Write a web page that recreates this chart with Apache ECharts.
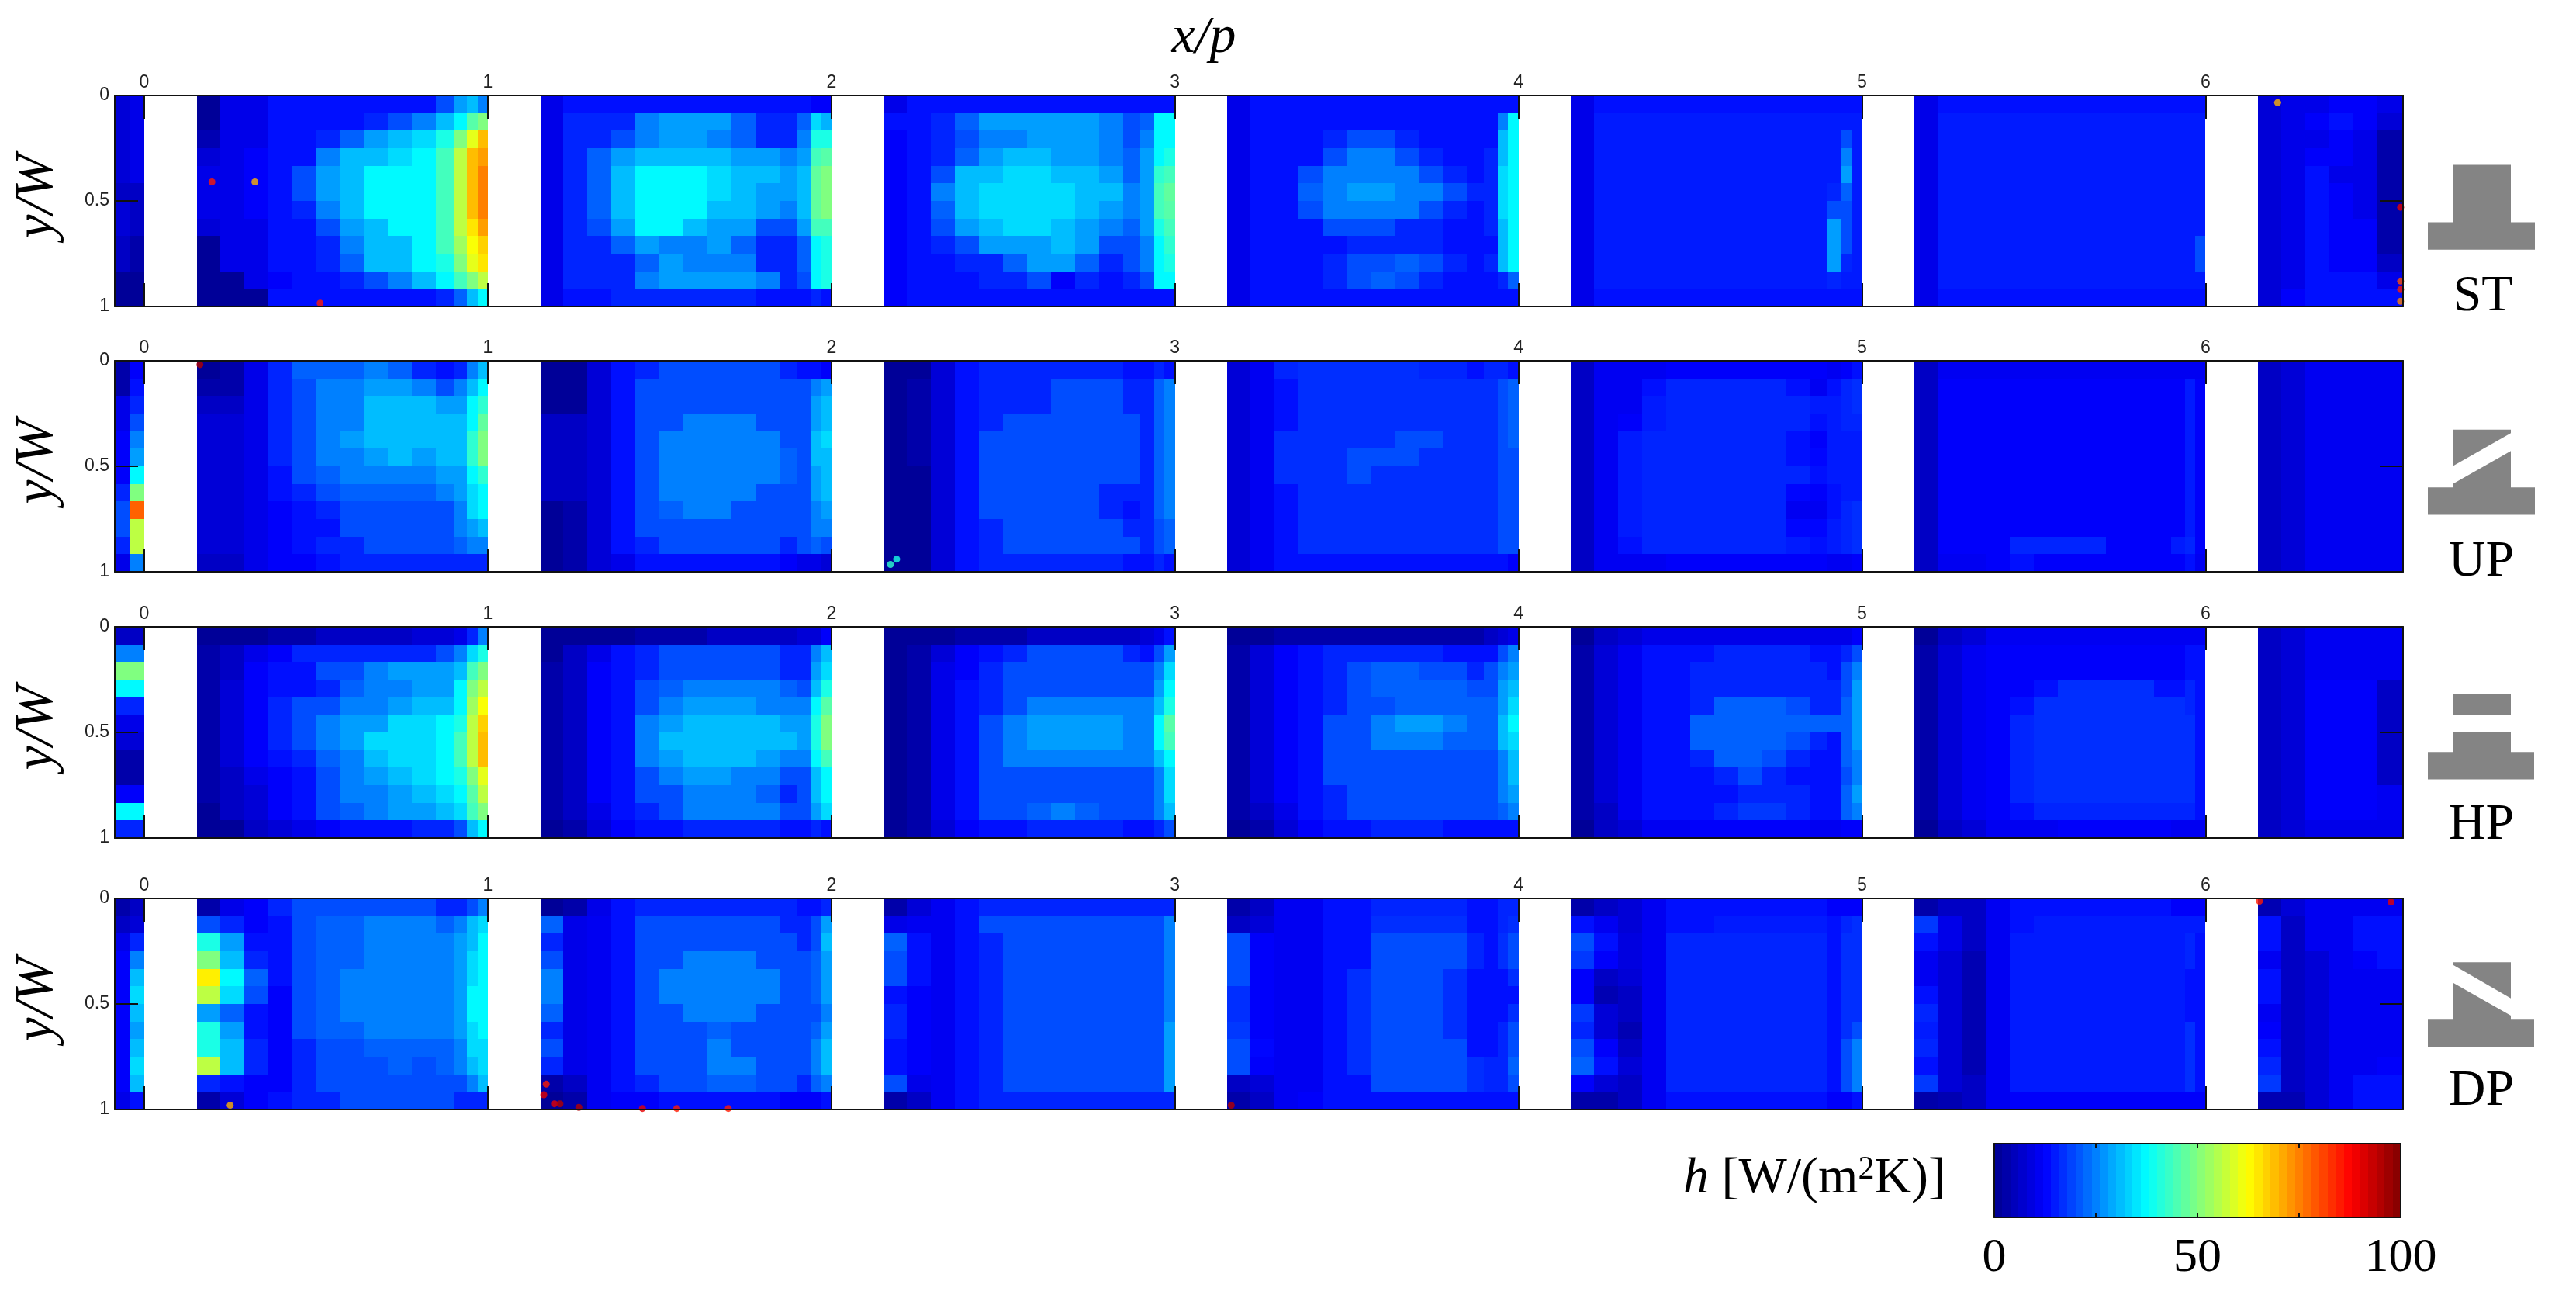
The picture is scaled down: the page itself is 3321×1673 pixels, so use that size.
<!DOCTYPE html>
<html>
<head>
<meta charset="utf-8">
<title>h map</title>
<script src="https://cdn.jsdelivr.net/npm/echarts@6/dist/echarts.min.js"></script>
<style>
  html, body { margin: 0; padding: 0; background: #fff; }
  #chart { width: 3321px; height: 1673px; }
</style>
</head>
<body>
<div id="chart"></div>
<script>
// column edges, in x/p, measured from the start of each pitch
const pitchEdges = [0.153, 0.22, 0.29, 0.36, 0.43, 0.5, 0.57, 0.64, 0.71, 0.78, 0.85, 0.9, 0.94, 0.97, 1]
const leadEdges = [-0.0858, -0.04, 0]
const tailEdges = [6.153, 6.22, 6.29, 6.36, 6.43, 6.5, 6.575]
const rowCount = 12
const xTicks = [0, 1, 2, 3, 4, 5, 6]
const colorbarLabels = [0, 50, 100]
const colorbarTicks = [25, 50, 75]
const colorbarLevels = [1, 3, 5, 7, 9, 11, 13, 15, 17, 19, 21, 23, 25, 27, 29, 31, 33, 35, 37, 39, 41, 43, 45, 47, 49, 51, 53, 55, 57, 59, 61, 63, 65, 67, 69, 71, 73, 75, 77, 79, 81, 83, 85, 87, 89, 91, 93, 95, 97, 99]
const jet = ['#00008f', '#0000ff', '#0080ff', '#00ffff', '#80ff80', '#ffff00', '#ff8000', '#ff0000', '#800000']

// ST
const stLead = [[8,10],[8,10],[8,10],[8,10],[8,10],[6,6],[8,6],[8,6],[6,3],[6,3],[1,1],[1,1]]
const stP0 = [
  [1,10,10,14,14,14,14,14,14,14,20,28,31,25],
  [1,10,10,14,14,14,14,16,20,25,31,37,46,50],
  [4,10,10,14,14,16,22,28,31,34,40,50,60,69],
  [8,10,12,14,14,25,31,31,34,37,44,56,69,72],
  [10,10,12,14,20,28,31,37,37,37,44,56,69,75],
  [10,10,12,14,20,28,31,37,37,37,44,56,69,75],
  [10,10,12,14,16,25,31,37,37,37,44,56,69,75],
  [8,10,10,14,14,20,28,31,37,37,44,56,65,72],
  [1,10,10,14,14,16,25,31,31,37,44,53,62,67],
  [1,10,10,14,14,16,22,31,31,37,40,50,60,65],
  [1,1,10,12,14,14,16,20,25,31,37,44,50,56],
  [1,1,1,14,14,14,14,14,14,14,16,22,31,37]]
const stP1 = [
  [10,14,14,14,14,14,14,14,14,14,14,14,12,12],
  [10,16,16,16,25,28,28,28,22,16,16,22,34,30],
  [10,16,16,20,25,28,28,25,22,16,16,25,40,40],
  [10,16,22,28,31,31,31,31,28,28,25,28,44,46],
  [10,16,22,31,37,37,37,34,31,31,28,31,47,50],
  [10,16,22,31,37,37,37,34,31,28,28,31,47,50],
  [10,16,22,31,37,37,37,31,31,28,25,31,47,50],
  [10,16,20,28,37,37,31,28,28,20,20,28,44,44],
  [10,16,16,22,28,25,25,28,22,16,16,22,37,40],
  [10,16,16,16,22,28,25,25,25,16,16,22,37,40],
  [10,16,16,16,25,28,28,28,28,25,16,20,37,40],
  [10,14,14,16,16,16,16,16,16,14,14,14,16,14]]
const stP2 = [
  [10,14,14,14,14,14,14,14,14,14,14,14,14,14],
  [14,14,16,22,28,28,28,28,28,25,20,22,37,37],
  [12,14,16,20,25,25,28,28,28,25,20,25,37,37],
  [12,14,16,22,28,31,31,28,28,25,22,28,37,40],
  [12,14,20,31,31,34,34,31,31,28,22,28,42,44],
  [12,14,25,31,34,34,34,34,31,31,25,28,44,47],
  [12,14,22,31,34,34,34,34,31,28,25,28,44,46],
  [12,14,20,28,31,34,34,31,28,25,22,28,40,44],
  [12,14,16,20,28,28,28,31,28,20,20,25,37,42],
  [12,14,14,16,16,22,28,28,22,16,20,25,37,40],
  [12,14,14,14,16,16,20,12,16,14,16,20,37,37],
  [12,14,14,14,14,14,14,14,14,14,14,14,14,14]]
const stP3 = [
  [10,14,14,14,14,14,14,14,14,14,14,14,14,14],
  [10,14,14,14,14,14,14,14,14,14,14,14,25,37],
  [10,14,14,14,16,20,20,16,14,14,14,14,31,37],
  [10,14,14,14,20,25,25,20,16,14,14,16,31,37],
  [10,14,14,20,25,25,25,25,20,16,14,16,34,37],
  [10,14,14,22,25,28,28,25,25,20,16,16,34,37],
  [10,14,14,20,25,25,25,25,20,16,14,16,34,37],
  [10,14,14,14,20,20,20,16,16,14,14,16,31,37],
  [10,14,14,14,14,16,16,16,16,14,14,14,31,37],
  [10,14,14,14,16,20,20,22,20,16,14,16,31,37],
  [10,14,14,14,16,20,22,20,16,14,14,14,16,22],
  [10,14,14,14,14,14,14,14,14,14,14,14,14,14]]
const stP4 = [
  [10,14,14,14,14,14,14,14,14,14,14,14,14,14],
  [10,15,15,15,15,15,15,15,15,15,15,15,15,15],
  [10,15,15,15,15,15,15,15,15,15,15,15,20,15],
  [10,15,15,15,15,15,15,15,15,15,15,15,25,15],
  [10,15,15,15,15,15,15,15,15,15,15,15,28,15],
  [10,15,15,15,15,15,15,15,15,15,15,16,22,15],
  [10,15,15,15,15,15,15,15,15,15,15,20,20,15],
  [10,15,15,15,15,15,15,15,15,15,15,28,20,15],
  [10,15,15,15,15,15,15,15,15,15,15,28,20,15],
  [10,15,15,15,15,15,15,15,15,15,15,28,16,15],
  [10,15,15,15,15,15,15,15,15,15,15,16,15,15],
  [10,14,14,14,14,14,14,14,14,14,14,14,14,14]]
const stP5 = [
  [10,14,14,14,14,14,14,14,14,14,14,14,14,14],
  [10,15,15,15,15,15,15,15,15,15,15,15,15,15],
  [10,15,15,15,15,15,15,15,15,15,15,15,15,15],
  [10,15,15,15,15,15,15,15,15,15,15,15,15,15],
  [10,15,15,15,15,15,15,15,15,15,15,15,15,15],
  [10,15,15,15,15,15,15,15,15,15,15,15,15,15],
  [10,15,15,15,15,15,15,15,15,15,15,15,15,15],
  [10,15,15,15,15,15,15,15,15,15,15,15,15,15],
  [10,15,15,15,15,15,15,15,15,15,15,15,15,20],
  [10,15,15,15,15,15,15,15,15,15,15,15,15,20],
  [10,15,15,15,15,15,15,15,15,15,15,15,15,15],
  [10,14,14,14,14,14,14,14,14,14,14,14,14,14]]
const stTail = [[8,10,10,12,12,10],[8,10,12,14,12,8],[8,10,10,12,10,3],[8,10,12,12,10,3],[8,10,14,10,10,3],[8,10,14,12,10,3],[8,10,14,12,10,3],[8,10,14,12,12,3],[8,10,14,12,12,3],[8,10,14,12,12,6],[8,10,14,14,14,10],[8,12,14,14,14,14]]
const stHot = [[0.197,0.41,85],[0.322,0.41,70],[0.512,0.984,85],[6.21,0.034,70],[6.568,0.53,90],[6.568,0.88,80],[6.568,0.92,85],[6.568,0.975,75]]

// UP
const upLead = [[3,12],[3,14],[10,16],[10,20],[12,25],[12,28],[12,37],[16,50],[20,78],[20,56],[16,56],[10,25]]
const upP0 = [
  [1,3,10,16,22,22,22,25,22,16,14,16,25,31],
  [3,3,10,16,20,25,25,28,28,25,20,25,31,37],
  [6,6,10,16,20,25,25,31,31,31,28,28,37,42],
  [8,8,10,16,20,25,25,31,31,31,31,31,37,47],
  [8,8,10,16,20,25,28,31,31,31,31,31,42,50],
  [8,8,10,16,20,25,25,28,31,28,31,31,42,50],
  [8,8,10,14,20,22,25,25,25,25,28,28,37,42],
  [8,8,10,14,16,20,22,22,22,22,25,28,34,37],
  [8,8,10,12,14,16,20,20,20,20,20,25,34,37],
  [8,8,10,12,14,14,20,20,20,20,20,25,28,31],
  [8,8,10,12,14,16,16,20,20,20,20,22,25,25],
  [6,6,10,12,12,14,16,16,16,16,16,16,16,16]]
const upP1 = [
  [1,1,8,14,16,20,20,20,20,20,16,14,14,12],
  [1,1,8,14,20,20,20,20,20,20,20,20,25,28],
  [1,1,8,14,20,20,20,20,20,20,20,20,28,31],
  [6,6,8,14,20,20,25,25,25,20,20,20,28,31],
  [6,6,8,14,20,25,25,25,25,25,20,20,31,34],
  [6,6,8,14,20,25,25,25,25,25,22,20,31,31],
  [6,6,8,14,20,25,25,25,25,25,22,20,28,31],
  [6,6,8,14,20,25,25,25,25,20,20,20,28,31],
  [1,3,8,14,20,22,25,25,20,20,20,20,25,28],
  [1,3,8,14,20,20,20,20,20,20,20,20,25,25],
  [1,3,8,14,16,20,20,20,20,20,16,20,22,20],
  [1,3,8,10,14,14,14,14,14,14,12,10,10,8]]
const upP2 = [
  [1,1,8,14,16,16,16,16,16,16,14,14,16,14],
  [1,3,8,14,16,16,16,20,20,20,16,16,22,25],
  [1,3,8,14,16,16,16,20,20,20,16,16,22,25],
  [1,3,8,14,16,20,20,20,20,20,20,16,22,25],
  [1,3,8,14,20,20,20,20,20,20,20,16,22,25],
  [1,3,8,14,20,20,20,20,20,20,20,16,22,25],
  [1,1,8,14,20,20,20,20,20,20,20,16,22,25],
  [1,1,8,14,20,20,20,20,20,16,16,16,22,25],
  [1,1,8,14,20,20,20,20,20,16,14,16,22,25],
  [1,1,8,14,16,20,20,20,20,20,16,16,20,22],
  [1,1,8,14,16,20,20,20,20,20,20,16,20,22],
  [1,1,8,14,16,16,16,16,16,16,14,14,16,14]]
const upP3 = [
  [8,11,16,17,17,17,17,17,16,16,14,16,16,14],
  [8,11,14,17,17,17,17,17,17,17,17,17,20,22],
  [8,11,14,17,17,17,17,17,17,17,17,17,20,22],
  [8,11,14,17,17,17,17,17,17,17,17,17,20,22],
  [8,11,17,17,17,17,17,20,20,17,17,17,20,22],
  [8,11,17,17,17,20,20,20,17,17,17,17,20,20],
  [8,11,17,17,17,20,17,17,17,17,17,17,20,20],
  [8,11,14,17,17,17,17,17,17,17,17,17,20,20],
  [8,11,14,17,17,17,17,17,17,17,17,17,20,20],
  [8,11,14,17,17,17,17,17,17,17,17,17,20,20],
  [8,11,14,17,17,17,17,17,17,17,17,17,20,20],
  [8,11,14,14,14,14,14,14,14,14,14,14,14,12]]
const upP4 = [
  [6,11,11,11,12,12,12,12,12,12,12,11,12,14],
  [6,11,11,14,16,16,16,16,16,14,11,14,16,17],
  [6,11,11,15,16,16,16,16,16,16,15,15,16,17],
  [6,11,12,15,16,16,16,16,16,16,14,15,16,16],
  [6,11,15,16,16,16,16,16,16,14,12,15,15,15],
  [6,11,15,16,16,16,16,16,16,14,13,15,15,15],
  [6,11,15,16,16,16,16,16,16,16,14,15,15,15],
  [6,11,15,16,16,16,16,16,16,13,12,14,15,15],
  [6,11,15,16,16,16,16,16,16,11,11,14,16,17],
  [6,11,15,16,16,16,16,16,16,13,13,15,16,17],
  [6,11,14,16,16,16,16,16,16,15,14,15,16,17],
  [6,11,11,11,12,12,12,12,12,12,12,11,11,12]]
const upP5 = [
  [6,11,11,11,11,11,11,11,11,11,11,11,11,11],
  [6,12,12,12,12,12,12,12,12,12,12,12,15,12],
  [6,12,12,12,12,12,12,12,12,12,12,12,15,12],
  [6,12,12,12,12,12,12,12,12,12,12,12,15,12],
  [6,12,12,12,12,12,12,12,12,12,12,12,15,12],
  [6,12,12,12,12,12,12,12,12,12,12,12,15,12],
  [6,12,12,12,12,12,12,12,12,12,12,12,15,12],
  [6,12,12,12,12,12,12,12,12,12,12,12,15,12],
  [6,12,12,12,12,12,12,12,12,12,12,12,15,12],
  [6,12,12,12,12,12,12,12,12,12,12,12,15,12],
  [6,12,12,12,16,16,16,16,12,12,12,15,16,12],
  [6,11,11,12,14,12,12,12,12,12,12,12,14,11]]
const upTail = [[6,8,11,11,11,11],[6,8,11,11,11,11],[6,8,11,11,11,11],[6,8,11,11,11,11],[6,8,11,11,11,11],[6,8,11,11,11,11],[6,8,11,11,11,11],[6,8,11,11,11,11],[6,8,11,11,11,11],[6,8,11,11,11,11],[6,8,11,11,11,11],[6,8,11,11,11,11]]
const upHot = [[0.162,0.018,95],[2.172,0.965,42],[2.19,0.94,40]]

// HP
const hpLead = [[6,6],[25,25],[50,50],[37,37],[16,16],[10,10],[8,8],[3,3],[3,3],[12,12],[37,37],[16,16]]
const hpP0 = [
  [1,1,1,3,3,6,6,6,6,8,8,10,16,25],
  [3,6,10,12,16,16,16,16,16,16,20,25,34,40],
  [3,6,12,14,14,20,20,25,28,28,28,31,44,50],
  [3,8,12,14,14,16,22,25,25,28,28,37,50,56],
  [3,8,12,16,20,20,25,25,28,31,31,37,53,62],
  [3,8,12,16,20,25,28,28,34,34,37,40,56,67],
  [3,8,12,16,20,25,28,34,34,34,37,44,56,69],
  [3,8,12,14,16,22,25,31,34,34,37,44,56,69],
  [3,6,10,12,14,20,25,28,31,34,37,40,50,60],
  [3,6,8,12,14,20,25,25,28,31,34,37,46,56],
  [1,6,8,12,14,20,22,25,28,28,31,34,44,50],
  [1,1,6,8,10,12,14,14,14,16,16,20,31,37]]
const hpP1 = [
  [1,1,1,1,3,3,3,6,6,6,6,8,8,12],
  [1,6,10,14,16,20,20,20,20,20,16,16,25,31],
  [3,6,12,14,16,20,20,20,20,20,16,16,28,34],
  [3,6,12,14,20,22,25,25,25,25,22,20,31,40],
  [3,6,12,14,20,25,28,28,28,25,25,25,37,46],
  [3,6,12,14,25,28,31,31,31,31,28,28,40,50],
  [3,6,12,14,25,31,31,31,31,31,31,28,40,50],
  [3,6,12,14,25,28,31,31,31,28,25,25,37,44],
  [3,6,12,14,20,25,28,28,25,25,20,20,31,37],
  [3,6,12,14,20,20,25,25,25,22,16,20,31,37],
  [3,6,10,14,16,20,25,25,25,25,20,20,28,34],
  [1,3,8,12,14,14,16,16,16,16,14,14,16,14]]
const hpP2 = [
  [1,1,1,3,3,3,6,6,6,6,6,8,10,14],
  [1,3,8,12,14,16,20,20,20,20,16,14,20,28],
  [1,3,10,12,16,20,20,20,20,20,20,20,25,34],
  [1,3,10,14,16,20,20,20,20,20,20,20,28,37],
  [1,3,10,14,16,20,25,25,25,25,25,25,31,40],
  [1,3,10,14,20,25,28,28,28,28,25,25,37,46],
  [1,3,10,14,20,25,28,28,28,28,25,25,37,44],
  [1,3,10,14,20,25,25,25,25,25,25,25,31,37],
  [1,3,10,14,20,20,20,20,20,20,20,20,25,34],
  [1,3,10,14,20,20,20,20,20,20,20,20,25,34],
  [1,3,10,14,20,20,22,25,22,20,20,20,25,31],
  [1,3,8,12,14,14,16,16,16,16,14,14,16,20]]
const hpP3 = [
  [1,1,3,3,3,3,3,3,3,3,3,6,8,10],
  [3,8,12,14,16,16,16,16,16,14,14,14,20,25],
  [3,8,12,14,16,20,22,22,20,20,16,20,25,28],
  [3,8,12,14,16,20,22,22,22,22,20,20,28,31],
  [3,8,12,14,16,20,20,22,22,22,22,22,28,34],
  [3,8,12,14,20,20,25,28,28,25,22,22,31,37],
  [3,8,12,14,20,20,25,25,25,22,22,22,31,34],
  [3,8,12,14,20,20,20,20,20,20,20,20,25,31],
  [3,8,12,14,20,20,20,20,20,20,20,20,25,31],
  [3,8,12,14,16,20,20,20,20,20,20,20,25,28],
  [3,6,10,14,16,20,20,20,20,20,20,20,22,25],
  [1,3,8,12,14,14,16,16,16,14,14,14,14,14]]
const hpP4 = [
  [1,6,8,10,10,10,10,10,10,10,10,10,10,12],
  [3,8,11,14,14,14,16,16,16,16,14,14,16,20],
  [3,8,11,14,14,16,16,16,16,16,16,14,20,25],
  [3,8,11,14,14,16,16,16,16,16,16,16,20,28],
  [3,8,11,14,14,16,22,22,22,20,16,16,22,28],
  [3,8,11,14,14,22,22,22,22,22,22,22,22,28],
  [3,8,11,14,14,22,22,22,22,20,16,14,22,28],
  [3,8,11,14,14,16,22,22,20,16,14,14,22,25],
  [3,8,11,14,14,14,16,20,16,14,14,14,20,25],
  [3,8,11,14,14,14,14,16,16,16,14,14,22,28],
  [3,6,11,14,14,14,16,18,18,16,14,14,22,25],
  [1,6,8,11,11,12,12,12,12,12,11,11,12,12]]
const hpP5 = [
  [1,6,8,11,11,11,11,11,11,11,11,11,11,11],
  [3,8,11,12,12,12,12,12,12,12,12,12,14,14],
  [3,8,11,12,12,12,12,12,12,12,12,12,14,14],
  [3,8,11,12,12,14,17,17,17,17,14,14,16,14],
  [3,8,11,12,14,17,17,17,17,17,17,17,16,14],
  [3,8,11,12,16,17,17,17,17,17,17,17,17,14],
  [3,8,11,12,16,17,17,17,17,17,17,17,17,14],
  [3,8,11,12,16,17,17,17,17,17,17,17,17,14],
  [3,8,11,12,16,17,17,17,17,17,17,17,17,14],
  [3,8,11,12,16,17,17,17,17,17,17,17,17,14],
  [3,8,11,12,14,16,16,16,16,16,16,16,16,14],
  [1,6,8,11,11,11,12,12,12,12,12,11,11,11]]
const hpTail = [[6,8,11,11,11,11],[6,8,11,11,11,11],[6,8,11,11,11,11],[6,8,12,12,12,6],[6,8,12,12,12,6],[6,8,12,12,12,6],[6,8,12,12,12,6],[6,8,12,12,12,6],[6,8,12,12,12,6],[6,8,12,12,12,11],[6,8,12,12,12,11],[6,8,10,10,10,10]]
const hpHot = []

// DP
const dpLead = [[3,6],[6,8],[10,16],[12,25],[12,31],[12,34],[12,31],[12,28],[12,31],[12,34],[12,31],[10,14]]
const dpP0 = [
  [3,10,12,16,20,20,20,20,20,20,16,16,20,25],
  [20,16,12,14,20,22,22,25,25,25,22,25,31,34],
  [40,28,14,14,20,22,22,25,25,25,25,28,31,37],
  [50,31,16,14,20,22,22,25,25,25,25,28,34,37],
  [64,37,22,14,20,22,25,25,25,25,25,28,34,37],
  [56,34,20,12,20,22,25,25,25,25,25,28,37,37],
  [28,22,14,12,20,22,25,25,25,25,25,28,37,37],
  [40,28,14,12,20,22,22,25,25,25,25,28,34,37],
  [40,31,16,12,16,20,20,22,22,22,22,25,34,34],
  [56,31,16,12,16,20,20,20,22,20,22,25,31,34],
  [16,14,12,12,16,20,20,20,20,20,20,20,25,31],
  [3,8,12,14,16,16,20,20,20,20,20,16,16,16]]
const dpP1 = [
  [1,3,10,14,16,16,16,16,16,16,16,14,14,16],
  [22,10,11,14,20,20,20,20,20,20,16,16,20,28],
  [16,10,11,14,20,20,20,20,20,20,20,16,20,31],
  [20,10,11,14,20,20,25,25,25,20,20,20,22,28],
  [25,10,11,14,20,25,25,25,25,25,20,20,22,28],
  [25,10,11,14,20,25,25,25,25,25,20,20,22,28],
  [22,10,11,14,20,20,25,25,25,20,20,20,20,25],
  [16,10,11,14,20,20,20,22,20,20,20,20,22,28],
  [20,10,11,14,20,20,20,25,20,20,20,20,25,31],
  [16,10,11,14,20,20,20,25,25,20,20,20,25,31],
  [3,6,11,14,16,20,20,22,22,20,20,16,22,25],
  [1,3,11,12,12,14,14,14,14,14,12,12,12,14]]
const dpP2 = [
  [3,8,11,14,16,16,16,16,16,16,16,16,16,16],
  [10,11,11,14,20,20,20,20,20,20,20,20,20,25],
  [22,14,11,14,16,20,20,20,20,20,20,20,20,25],
  [20,14,11,14,16,20,20,20,20,20,20,20,20,25],
  [20,14,11,14,16,20,20,20,20,20,20,20,20,25],
  [14,12,11,14,16,20,20,20,20,20,20,20,20,25],
  [16,12,11,14,16,20,20,20,20,20,20,20,20,25],
  [16,12,11,14,16,20,20,20,20,20,20,20,20,28],
  [14,12,11,14,16,20,20,20,20,20,20,20,20,28],
  [14,12,11,14,16,20,20,20,20,20,20,20,20,28],
  [20,10,11,14,16,20,20,20,20,20,20,20,20,28],
  [3,6,11,14,16,16,16,16,16,16,16,16,16,16]]
const dpP3 = [
  [3,6,11,11,14,14,16,16,16,16,14,14,16,16],
  [6,8,11,11,14,14,17,17,17,17,14,14,16,17],
  [20,12,11,11,14,14,20,20,20,20,16,14,17,20],
  [20,12,11,11,14,14,20,20,20,20,16,14,17,20],
  [20,12,11,11,14,17,20,20,20,17,14,14,14,17],
  [17,12,11,11,14,17,20,20,20,17,14,14,14,14],
  [17,12,11,11,14,17,20,20,20,17,14,14,14,17],
  [18,12,11,11,14,17,20,20,20,17,14,14,16,20],
  [20,13,11,11,14,17,20,20,20,20,14,14,16,20],
  [20,12,11,11,14,17,20,20,20,20,17,16,16,22],
  [6,8,11,11,14,14,20,20,20,20,17,16,16,20],
  [3,6,11,12,14,14,14,14,14,14,14,14,14,14]]
const dpP4 = [
  [3,6,8,11,14,14,14,14,14,14,14,12,12,12],
  [14,11,8,11,14,14,15,15,15,15,15,14,16,17],
  [20,14,9,11,16,16,16,16,16,16,16,14,17,17],
  [18,12,9,11,16,16,16,16,16,16,16,14,17,17],
  [12,6,8,11,16,16,16,16,16,16,16,14,17,17],
  [12,4,6,11,16,16,16,16,16,16,16,14,17,17],
  [18,8,6,11,16,16,16,16,16,16,16,14,17,17],
  [16,8,4,11,16,16,16,16,16,16,16,14,17,20],
  [20,12,6,11,16,16,16,16,16,16,16,14,20,25],
  [22,14,8,11,16,16,16,16,16,16,16,14,20,25],
  [12,8,6,11,16,16,16,16,16,16,16,14,20,25],
  [3,3,6,11,14,14,14,14,14,14,14,12,12,14]]
const dpP5 = [
  [3,6,6,11,14,14,14,14,14,14,14,12,12,12],
  [18,10,6,11,14,15,15,15,15,15,15,15,15,15],
  [14,10,6,11,15,15,15,15,15,15,15,15,16,14],
  [11,8,4,11,15,15,15,15,15,15,15,15,16,14],
  [11,8,4,11,15,15,15,15,15,15,15,15,14,14],
  [14,8,4,11,15,15,15,15,15,15,15,15,14,14],
  [16,8,4,11,15,15,15,15,15,15,15,15,14,14],
  [15,8,4,11,15,15,15,15,15,15,15,15,17,14],
  [16,8,4,11,15,15,15,15,15,15,15,15,17,14],
  [14,8,4,11,15,15,15,15,15,15,15,15,17,14],
  [18,8,6,11,15,15,15,15,15,15,15,15,17,14],
  [3,4,6,11,12,12,12,12,12,12,12,12,12,12]]
const dpTail = [[4,8,11,11,11,11],[14,6,11,11,14,14],[14,6,11,11,14,14],[11,6,8,11,12,14],[14,6,8,11,11,11],[14,6,8,11,11,11],[11,6,8,11,11,11],[12,6,8,11,11,11],[14,6,8,11,11,11],[16,6,8,11,11,12],[18,6,8,11,14,14],[4,4,8,11,14,14]]
const dpHot = [[0.25,0.98,70],[1.163,0.93,90],[1.17,0.88,85],[1.194,0.973,90],[1.21,0.973,95],[1.265,0.99,95],[1.45,0.995,90],[1.55,0.995,85],[1.7,0.995,85],[3.164,0.98,95],[6.54,0.017,90],[6.157,0.013,85]]

const panels = [
  { top: 123, lead: stLead, pitches: [stP0, stP1, stP2, stP3, stP4, stP5], tail: stTail, hot: stHot },
  { top: 465, lead: upLead, pitches: [upP0, upP1, upP2, upP3, upP4, upP5], tail: upTail, hot: upHot },
  { top: 808, lead: hpLead, pitches: [hpP0, hpP1, hpP2, hpP3, hpP4, hpP5], tail: hpTail, hot: hpHot },
  { top: 1158, lead: dpLead, pitches: [dpP0, dpP1, dpP2, dpP3, dpP4, dpP5], tail: dpTail, hot: dpHot }
]

const serif = '"Liberation Serif", "Times New Roman", serif'
const sans = '"Liberation Sans", Arial, sans-serif'

function cellsOf(edges, offset, rows) {
  const cells = []
  rows.forEach((row, r) => {
    row.forEach((h, c) => {
      cells.push([offset + edges[c], offset + edges[c + 1], r / rowCount, (r + 1) / rowCount, h])
    })
  })
  return cells
}

function panelCells(panel) {
  let cells = cellsOf(leadEdges, 0, panel.lead)
  panel.pitches.forEach((rows, k) => { cells = cells.concat(cellsOf(pitchEdges, k, rows)) })
  return cells.concat(cellsOf(tailEdges, 0, panel.tail))
}

function renderCell(params, api) {
  const a = api.coord([api.value(0), api.value(2)])
  const b = api.coord([api.value(1), api.value(3)])
  const x = Math.round(a[0])
  const y = Math.round(a[1])
  return {
    type: 'rect',
    shape: { x, y, width: Math.round(b[0]) - x, height: Math.round(b[1]) - y },
    style: { fill: api.visual('color') }
  }
}

const grids = []
const xAxes = []
const yAxes = []
const series = []
const lineStyle = { color: '#111', width: 2 }

panels.forEach((panel, i) => {
  grids.push({ left: 148, width: 2950, top: panel.top, height: 272 })
  ;['top', 'bottom'].forEach(position => {
    xAxes.push({
      type: 'value', gridIndex: i, position, min: -0.0858, max: 6.575, z: 5,
      splitLine: { show: false },
      axisLine: { show: true, onZero: false, lineStyle },
      axisTick: { show: true, inside: true, length: 30, customValues: xTicks, lineStyle },
      axisLabel: {
        show: position === 'top', customValues: xTicks, margin: 5,
        fontFamily: sans, fontSize: 23, color: '#222'
      }
    })
  })
  ;['left', 'right'].forEach(position => {
    yAxes.push({
      type: 'value', gridIndex: i, position, inverse: true, min: 0, max: 1, interval: 0.5, z: 5,
      splitLine: { show: false },
      axisLine: { show: true, onZero: false, lineStyle },
      axisTick: { show: true, inside: true, length: 30, lineStyle },
      axisLabel: {
        show: position === 'left', margin: 7,
        fontFamily: sans, fontSize: 23, color: '#222'
      }
    })
  })
  series.push({
    type: 'custom', xAxisIndex: i * 2, yAxisIndex: i * 2, silent: true, z: 2,
    renderItem: renderCell, encode: { x: [0, 1], y: [2, 3] }, data: panelCells(panel)
  })
})

// colorbar
grids.push({ left: 2571, width: 524, top: 1474, height: 95 })
xAxes.push({
  type: 'value', gridIndex: 4, position: 'bottom', min: 0, max: 100, z: 5,
  splitLine: { show: false },
  axisLine: { show: true, onZero: false, lineStyle },
  axisTick: { show: true, inside: true, length: 6, customValues: colorbarTicks, lineStyle },
  axisLabel: { customValues: colorbarLabels, margin: 22, fontFamily: serif, fontSize: 62, color: '#000' }
})
xAxes.push({
  type: 'value', gridIndex: 4, position: 'top', min: 0, max: 100, z: 5,
  splitLine: { show: false },
  axisLine: { show: true, onZero: false, lineStyle },
  axisTick: { show: true, inside: true, length: 6, customValues: colorbarTicks, lineStyle },
  axisLabel: { show: false }
})
yAxes.push({
  type: 'value', gridIndex: 4, min: 0, max: 1, position: 'left', z: 5,
  splitLine: { show: false }, axisTick: { show: false }, axisLabel: { show: false },
  axisLine: { show: true, onZero: false, lineStyle }
})
yAxes.push({
  type: 'value', gridIndex: 4, min: 0, max: 1, position: 'right', z: 5,
  splitLine: { show: false }, axisTick: { show: false }, axisLabel: { show: false },
  axisLine: { show: true, onZero: false, lineStyle }
})
series.push({
  type: 'custom', xAxisIndex: 8, yAxisIndex: 8, silent: true, z: 2,
  renderItem: renderCell, encode: { x: [0, 1], y: [2, 3] },
  data: colorbarLevels.map(v => [v - 1, v + 1, 0, 1, v])
})

const cellSeriesIdx = series.map((s, i) => i)

// single hot pixels
panels.forEach((panel, i) => {
  series.push({
    type: 'scatter', xAxisIndex: i * 2, yAxisIndex: i * 2, silent: true, z: 3,
    symbolSize: 9, data: panel.hot
  })
})
const hotSeriesIdx = series.map((s, i) => i).filter(i => !cellSeriesIdx.includes(i))

function label(text, x, y, extra) {
  return {
    type: 'text', x, y,
    style: Object.assign({ text, fill: '#000', font: '66px ' + serif, align: 'center', verticalAlign: 'middle' }, extra)
  }
}

function gray(points) {
  return { type: 'polygon', shape: { points }, style: { fill: '#848484' } }
}

const graphics = [
  label('x/p', 1552, 49, { font: 'italic 68px ' + serif }),
  // base plates and fins drawn at fixed places beside the panels
  gray([[3163, 212.5], [3237, 212.5], [3237, 286.6], [3268, 286.6], [3268, 321.8], [3130, 321.8], [3130, 286.6], [3163, 286.6]]),
  gray([[3163, 553.7], [3237, 553.7], [3237, 558.3], [3163, 600.3]]),
  gray([[3163, 623.3], [3237, 581.2], [3237, 628.2], [3268, 628.2], [3268, 663.4], [3130, 663.4], [3130, 628.2], [3163, 628.2]]),
  gray([[3163, 894.8], [3237, 894.8], [3237, 921.1], [3163, 921.1]]),
  gray([[3163, 944], [3237, 944], [3237, 969.3], [3267, 969.3], [3267, 1004.4], [3130, 1004.4], [3130, 969.3], [3163, 969.3]]),
  gray([[3163, 1240.2], [3237, 1240.2], [3237, 1286.8], [3163, 1244]]),
  gray([[3163, 1267], [3237, 1309], [3237, 1314.3], [3267, 1314.3], [3267, 1349.5], [3130, 1349.5], [3130, 1314.3], [3163, 1314.3]]),
  label('ST', 3201, 383),
  label('UP', 3199, 725),
  label('HP', 3199, 1064),
  label('DP', 3199, 1407),
  {
    type: 'text', x: 2170, y: 1520,
    style: {
      text: '{i|h} [W/(m{s|2}K)]', fill: '#000', font: '66px ' + serif, align: 'left', verticalAlign: 'middle',
      rich: {
        i: { font: 'italic 66px ' + serif, fill: '#000' },
        s: { font: '42px ' + serif, fill: '#000', verticalAlign: 'top', lineHeight: 66 }
      }
    }
  }
]
panels.forEach(panel => {
  graphics.push(Object.assign(label('y/W', 49, panel.top + 130, { font: 'italic 70px ' + serif }), { rotation: Math.PI / 2 }))
})

const chart = echarts.init(document.getElementById('chart'))
chart.setOption({
  animation: false,
  backgroundColor: '#fff',
  grid: grids,
  xAxis: xAxes,
  yAxis: yAxes,
  visualMap: [
    { show: false, type: 'continuous', min: 0, max: 100, dimension: 4, seriesIndex: cellSeriesIdx, inRange: { color: jet } },
    { show: false, type: 'continuous', min: 0, max: 100, dimension: 2, seriesIndex: hotSeriesIdx, inRange: { color: jet } }
  ],
  series,
  graphic: graphics
})
</script>
</body>
</html>
